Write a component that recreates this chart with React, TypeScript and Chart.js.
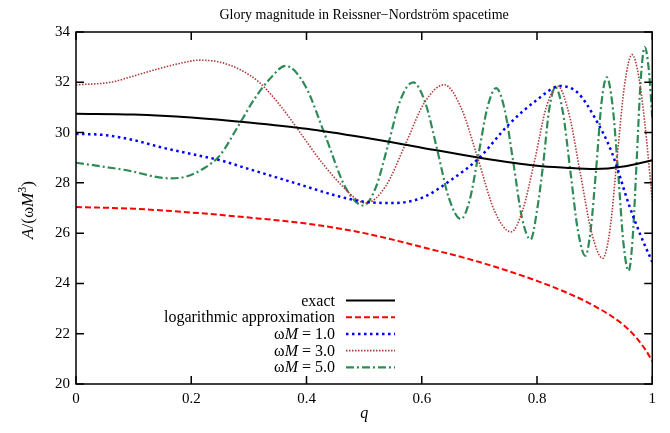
import React, { useEffect, useRef } from "react";
import { Chart, registerables } from "chart.js";

Chart.register(...registerables);

// ---- data ----
const xTicks = [0, 0.2, 0.4, 0.6, 0.8, 1.0];
const yTicks = [20, 22, 24, 26, 28, 30, 32, 34];

const qExact = [0, 0.1, 0.2, 0.3, 0.4, 0.5, 0.6, 0.7, 0.8, 0.85, 0.9, 0.95, 1.0];
const exactVals = [30.75, 30.72, 30.6, 30.4, 30.15, 29.8, 29.4, 29.0, 28.68, 28.6, 28.55, 28.65, 28.9];

const qLog = [0, 0.1, 0.2, 0.3, 0.4, 0.5, 0.6, 0.7, 0.8, 0.85, 0.9, 0.95, 0.97, 0.99, 1.0];
const logVals = [27.04, 26.97, 26.82, 26.62, 26.38, 26.0, 25.45, 24.85, 24.1, 23.65, 23.1, 22.35, 21.9, 21.3, 20.9];

const qW1 = [0, 0.05, 0.1, 0.15, 0.2, 0.25, 0.3, 0.35, 0.4, 0.45, 0.5, 0.55, 0.6, 0.65, 0.7, 0.75, 0.8, 0.84, 0.87, 0.9, 0.93, 0.96, 0.98, 1.0];
const w1Vals = [29.95, 29.9, 29.7, 29.4, 29.15, 28.9, 28.55, 28.2, 27.85, 27.5, 27.25, 27.2, 27.4, 28.1, 29.0, 30.3, 31.3, 31.85, 31.6, 30.6, 29.2, 27.1, 25.9, 24.85];

const qW3 = [0, 0.06, 0.1, 0.145, 0.18, 0.214, 0.25, 0.285, 0.318, 0.357, 0.392, 0.427, 0.461, 0.49, 0.503, 0.537, 0.571, 0.605, 0.639, 0.668, 0.697, 0.726, 0.755, 0.775, 0.796, 0.816, 0.836, 0.856, 0.875, 0.895, 0.914, 0.927, 0.939, 0.952, 0.965, 0.976, 0.987, 1.0];
const w3Vals = [31.9, 32.0, 32.25, 32.55, 32.75, 32.88, 32.8, 32.5, 32.0, 31.0, 29.9, 28.8, 27.9, 27.3, 27.2, 27.85, 29.5, 31.2, 31.9, 31.0, 29.0, 26.9, 26.05, 26.9, 28.9, 31.0, 31.85, 30.7, 28.4, 26.0, 25.0, 26.2, 29.0, 31.9, 33.1, 32.3, 30.4, 27.3];

const qW5 = [0, 0.088, 0.162, 0.19, 0.22, 0.25, 0.28, 0.31, 0.335, 0.364, 0.398, 0.433, 0.468, 0.499, 0.52, 0.542, 0.563, 0.585, 0.606, 0.627, 0.647, 0.668, 0.683, 0.699, 0.714, 0.729, 0.744, 0.759, 0.774, 0.789, 0.8, 0.811, 0.821, 0.832, 0.845, 0.858, 0.871, 0.884, 0.893, 0.903, 0.912, 0.921, 0.931, 0.941, 0.95, 0.959, 0.966, 0.973, 0.98, 0.987, 0.994, 1.0];
const w5Vals = [28.8, 28.5, 28.18, 28.24, 28.55, 29.1, 30.2, 31.35, 32.1, 32.65, 31.85, 29.85, 27.8, 27.1, 27.8, 29.55, 31.3, 32.0, 31.2, 29.3, 27.4, 26.56, 27.3, 29.2, 31.0, 31.77, 30.9, 28.8, 26.6, 25.75, 26.9, 28.8, 30.9, 31.8, 30.8, 28.45, 26.1, 25.1, 26.1, 28.65, 31.2, 32.2, 31.1, 28.35, 25.6, 24.5, 25.8, 28.9, 32.1, 33.4, 32.5, 30.6];

const titleText = "Glory magnitude in Reissner\u2212Nordstr\u00f6m spacetime";

type Part = { t: string; italic?: boolean; sup?: boolean };
type SeriesDef = { label: Part[]; q: number[]; v: number[]; color: string; width: number; dash: number[] };

const series: SeriesDef[] = [
  { label: [{ t: "exact" }], q: qExact, v: exactVals, color: "#000000", width: 2, dash: [] },
  { label: [{ t: "logarithmic approximation" }], q: qLog, v: logVals, color: "#ff0000", width: 2, dash: [6, 3] },
  { label: [{ t: "\u03c9" }, { t: "M", italic: true }, { t: " = 1.0" }], q: qW1, v: w1Vals, color: "#0000ff", width: 2.5, dash: [2.5, 3.5] },
  { label: [{ t: "\u03c9" }, { t: "M", italic: true }, { t: " = 3.0" }], q: qW3, v: w3Vals, color: "#b03a3a", width: 1.6, dash: [1.5, 1.5] },
  { label: [{ t: "\u03c9" }, { t: "M", italic: true }, { t: " = 5.0" }], q: qW5, v: w5Vals, color: "#2e8b57", width: 2.2, dash: [8, 3, 2, 3] },
];

const FONT = "'Liberation Serif', 'Times New Roman', serif";

function fontFor(p: Part, size: number) {
  const s = p.sup ? Math.round(size * 0.7) : size;
  return `${p.italic ? "italic " : ""}${s}px ${FONT}`;
}

function measureParts(ctx: CanvasRenderingContext2D, parts: Part[], size: number) {
  let w = 0;
  for (const p of parts) {
    ctx.font = fontFor(p, size);
    w += ctx.measureText(p.t).width;
  }
  return w;
}

function drawParts(ctx: CanvasRenderingContext2D, parts: Part[], x: number, y: number, size: number) {
  let cx = x;
  for (const p of parts) {
    ctx.font = fontFor(p, size);
    ctx.textAlign = "left";
    ctx.fillText(p.t, cx, p.sup ? y - size * 0.4 : y);
    cx += ctx.measureText(p.t).width;
  }
}

const decorPlugin = {
  id: "decor",
  afterDraw(chart: any) {
    const ctx: CanvasRenderingContext2D = chart.ctx;
    const a = chart.chartArea;
    const xs = chart.scales.x;
    const ys = chart.scales.y;
    ctx.save();
    ctx.strokeStyle = "#000";
    ctx.fillStyle = "#000";
    ctx.setLineDash([]);
    ctx.lineWidth = 1.5;
    ctx.strokeRect(a.left, a.top, a.right - a.left, a.bottom - a.top);
    const tl = 8;
    ctx.beginPath();
    for (const v of xTicks) {
      const px = xs.getPixelForValue(v);
      ctx.moveTo(px, a.bottom);
      ctx.lineTo(px, a.bottom - tl);
      ctx.moveTo(px, a.top);
      ctx.lineTo(px, a.top + tl);
    }
    for (const v of yTicks) {
      const py = ys.getPixelForValue(v);
      ctx.moveTo(a.left, py);
      ctx.lineTo(a.left + tl, py);
      ctx.moveTo(a.right, py);
      ctx.lineTo(a.right - tl, py);
    }
    ctx.stroke();

    // title
    ctx.font = `14px ${FONT}`;
    ctx.textAlign = "center";
    ctx.textBaseline = "alphabetic";
    ctx.fillText(titleText, (a.left + a.right) / 2, 11);

    // x label
    ctx.font = `italic 16px ${FONT}`;
    ctx.fillText("q", (a.left + a.right) / 2, 410);

    // y label
    const yl: Part[] = [{ t: "A", italic: true }, { t: "/(\u03c9" }, { t: "M", italic: true }, { t: "3", sup: true }, { t: ")" }];
    ctx.save();
    ctx.translate(25, (a.top + a.bottom) / 2 + 2);
    ctx.rotate(-Math.PI / 2);
    const wy = measureParts(ctx, yl, 17);
    drawParts(ctx, yl, -wy / 2, 0, 17);
    ctx.restore();

    // legend
    const rowY0 = 297.5;
    const rowH = 16.7;
    const textRight = 327;
    const sx0 = 338;
    const sx1 = 387;
    series.forEach((s, i) => {
      const y = rowY0 + i * rowH;
      const w = measureParts(ctx, s.label, 16);
      ctx.fillStyle = "#000";
      drawParts(ctx, s.label, textRight - w, y, 16);
      ctx.beginPath();
      ctx.strokeStyle = s.color;
      ctx.lineWidth = s.width;
      ctx.setLineDash(s.dash);
      ctx.moveTo(sx0, y - 5);
      ctx.lineTo(sx1, y - 5);
      ctx.stroke();
    });
    ctx.restore();
  },
};

export default function App() {
  const ref = useRef<HTMLCanvasElement | null>(null);
  useEffect(() => {
    if (!ref.current) return;
    const chart = new Chart(ref.current, {
      type: "line",
      data: {
        datasets: series.map((s) => ({
          label: s.label.map((p) => p.t).join(""),
          data: s.q.map((q, i) => ({ x: q, y: s.v[i] })),
          borderColor: s.color,
          borderWidth: s.width,
          borderDash: s.dash,
          pointRadius: 0,
          fill: false,
          cubicInterpolationMode: "monotone" as const,
        })),
      },
      options: {
        responsive: false,
        animation: false,
        layout: { padding: { top: 24, right: 7, left: 0, bottom: 0 } },
        plugins: {
          legend: { display: false },
          title: { display: false },
          tooltip: { enabled: false },
        },
        scales: {
          x: {
            type: "linear",
            min: 0,
            max: 1,
            afterFit: (s: any) => {
              s.height = 41;
            },
            afterBuildTicks: (s: any) => {
              s.ticks = xTicks.map((v) => ({ value: v }));
            },
            grid: { display: false, drawTicks: false },
            border: { display: false },
            ticks: {
              padding: 6,
              color: "#000",
              font: { family: FONT, size: 15 },
              maxRotation: 0,
              callback: (v: any) => String(Math.round(Number(v) * 10) / 10),
            },
          },
          y: {
            type: "linear",
            min: 20,
            max: 34,
            afterFit: (s: any) => {
              s.width = 68;
            },
            afterBuildTicks: (s: any) => {
              s.ticks = yTicks.map((v) => ({ value: v }));
            },
            grid: { display: false, drawTicks: false },
            border: { display: false },
            ticks: {
              padding: 6,
              color: "#000",
              font: { family: FONT, size: 15 },
              callback: (v: any) => String(v),
            },
          },
        },
      },
      plugins: [decorPlugin],
    } as any);
    return () => chart.destroy();
  }, []);
  return <canvas ref={ref} width={654} height={417} style={{ display: "block" }} />;
}
